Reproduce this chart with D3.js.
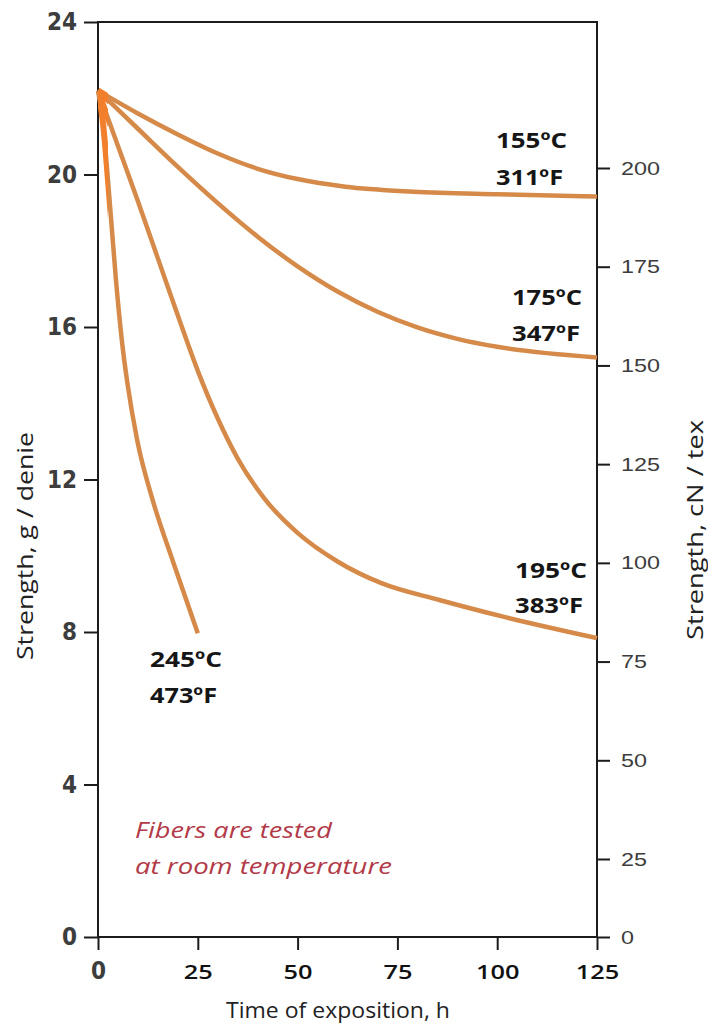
<!DOCTYPE html>
<html><head><meta charset="utf-8">
<script src="https://cdn.jsdelivr.net/npm/d3@7"></script>
<style>
html,body{margin:0;padding:0;background:#fff;}
svg{display:block;}
</style></head>
<body>
<svg id="chart" width="708" height="1032"></svg>
<script>
// ---- data ----
const timeTicks = [0, 25, 50, 75, 100, 125];
const leftTicks = [0, 4, 8, 12, 16, 20, 24];
const rightTicks = [0, 25, 50, 75, 100, 125, 150, 175, 200];

const t155 = [0, 10, 20, 30, 40, 50, 62, 79, 100, 125];
const v155 = [22.2, 21.6, 21.05, 20.55, 20.15, 19.88, 19.68, 19.55, 19.48, 19.42];

const t175 = [0, 10, 20, 30, 40, 50, 60, 70, 80, 90, 100, 125];
const v175 = [22.2, 21.2, 20.2, 19.25, 18.37, 17.59, 16.93, 16.4, 15.99, 15.69, 15.48, 15.2];

const t195 = [0, 5, 10, 15, 20, 25, 30, 35, 42, 50, 60, 71, 85.5, 102, 125];
const v195 = [22.2, 20.75, 19.3, 17.8, 16.3, 14.85, 13.6, 12.55, 11.46, 10.6, 9.85, 9.28, 8.84, 8.39, 7.84];

const t245 = [0, 1.25, 2.5, 4.5, 6.25, 7.25, 9.8, 13.7, 18.65, 25];
const v245 = [22.2, 21.35, 19.86, 17.23, 15.4, 14.61, 13.04, 11.46, 9.89, 7.97];

const seriesNames = ["155", "175", "195", "245"];
const labelC = ["155ºC", "175ºC", "195ºC", "245ºC"];
const labelF = ["311ºF", "347ºF", "383ºF", "473ºF"];
const noteLines = ["Fibers are tested", "at room temperature"];

// ---- layout ----
const L = 98, R = 597, T = 22, B = 937;
const svg = d3.select("#chart");
const x = d3.scaleLinear().domain([0, 125]).range([L, R]);
const yL = d3.scaleLinear().domain([0, 24]).range([B, T]);
const yR = d3.scaleLinear().domain([0, 25, 200]).range([B, 859, 168]);

const axisColor = "#1c1c1c";
const lineColor = "#D68A49";
const sansW = "'Open Sans', Lato, sans-serif";
const narrow = "'Liberation Sans Narrow','DejaVu Sans Condensed',sans-serif";

// frame lines
const frame = svg.append("g").attr("stroke", axisColor).attr("stroke-width", 2).attr("fill", "none");
frame.append("line").attr("x1", L).attr("x2", L).attr("y1", T - 1).attr("y2", B);
frame.append("line").attr("x1", R).attr("x2", R).attr("y1", T - 1).attr("y2", B);
frame.append("line").attr("x1", L).attr("x2", R).attr("y1", T).attr("y2", T);
frame.append("line").attr("x1", L).attr("x2", R).attr("y1", B).attr("y2", B);

// left axis
const gL = svg.append("g").attr("transform", `translate(${L},0)`)
  .call(d3.axisLeft(yL).tickValues(leftTicks).tickSize(14).tickPadding(7).tickFormat(d3.format("d")));
gL.select(".domain").remove();
gL.selectAll(".tick line").attr("stroke", axisColor).attr("stroke-width", 2);
gL.selectAll(".tick text").attr("font-family", narrow)
  .attr("font-weight", "bold").attr("font-size", 24).attr("fill", "#3d3d3d");

// right axis
const gR = svg.append("g").attr("transform", `translate(${R},0)`)
  .call(d3.axisRight(yR).tickValues(rightTicks).tickSize(13).tickPadding(11).tickFormat(d3.format("d")));
gR.select(".domain").remove();
gR.selectAll(".tick line").attr("stroke", axisColor).attr("stroke-width", 2);
gR.selectAll(".tick text").attr("font-family", "'Liberation Sans', Arial, sans-serif")
  .attr("font-size", 19).attr("fill", "#3d3d3d")
  .attr("textLength", d => String(d).length * 13).attr("lengthAdjust", "spacingAndGlyphs");

// bottom axis
const gB = svg.append("g").attr("transform", `translate(0,${B})`)
  .call(d3.axisBottom(x).tickValues(timeTicks).tickSize(13).tickPadding(15).tickFormat(d3.format("d")));
gB.select(".domain").remove();
gB.selectAll(".tick line").attr("stroke", axisColor).attr("stroke-width", 2);
gB.selectAll(".tick text").attr("font-family", sansW).attr("font-weight", 600)
  .attr("font-size", 20).attr("fill", "#111")
  .attr("textLength", d => String(d).length * 14.5).attr("lengthAdjust", "spacingAndGlyphs");
gB.selectAll(".tick text").filter(d => d === 0)
  .attr("font-family", narrow).attr("textLength", null).attr("dy", "0.6em")
  .attr("font-weight", "bold").attr("font-size", 24).attr("fill", "#3d3d3d");

// axis titles
svg.append("text").attr("transform", `translate(33,546) rotate(-90)`).attr("text-anchor", "middle")
  .attr("font-family", sansW).attr("font-size", 21).attr("fill", "#222")
  .attr("textLength", 228).attr("lengthAdjust", "spacingAndGlyphs")
  .text("Strength, g / denie");
svg.append("text").attr("transform", `translate(703,530) rotate(-90)`).attr("text-anchor", "middle")
  .attr("font-family", sansW).attr("font-size", 21).attr("fill", "#222")
  .attr("textLength", 220).attr("lengthAdjust", "spacingAndGlyphs")
  .text("Strength, cN / tex");
svg.append("text").attr("x", 226).attr("y", 1018)
  .attr("font-family", sansW).attr("font-size", 21).attr("fill", "#222")
  .attr("textLength", 224).attr("lengthAdjust", "spacingAndGlyphs")
  .text("Time of exposition, h");

// curves
const series = [
  {t: t155, v: v155}, {t: t175, v: v175}, {t: t195, v: v195}, {t: t245, v: v245}
].map((s, i) => ({name: seriesNames[i], pts: s.t.map((tt, j) => [tt, s.v[j]])}));

const line = d3.line().x(d => x(d[0])).y(d => yL(d[1])).curve(d3.curveMonotoneX);
svg.append("g").selectAll("path").data(series).join("path")
  .attr("d", d => line(d.pts)).attr("fill", "none").attr("stroke", lineColor)
  .attr("stroke-width", 4.5).attr("stroke-linecap", "butt");

// bright blob at start
svg.append("clipPath").attr("id", "startClip").append("rect")
  .attr("x", x(0)).attr("y", T).attr("width", x(2.5) - x(0)).attr("height", B - T);
svg.append("g").attr("clip-path", "url(#startClip)").selectAll("path").data(series).join("path")
  .attr("d", d => line(d.pts)).attr("fill", "none").attr("stroke", "#F27F2B")
  .attr("stroke-width", 6);

// temperature labels
const labelPos = [
  {x: 496, y1: 148, y2: 185, w1: 71, w2: 67},
  {x: 512, y1: 305, y2: 341, w1: 70, w2: 68},
  {x: 515, y1: 578, y2: 613, w1: 72, w2: 68},
  {x: 150, y1: 667, y2: 703, w1: 72, w2: 67}
];
const lab = svg.append("g").attr("font-family", sansW)
  .attr("font-weight", "bold").attr("font-size", 22).attr("fill", "#161616");
labelPos.forEach((p, i) => {
  lab.append("text").attr("x", p.x).attr("y", p.y1).attr("textLength", p.w1)
    .attr("lengthAdjust", "spacingAndGlyphs").text(labelC[i]);
  lab.append("text").attr("x", p.x).attr("y", p.y2).attr("textLength", p.w2)
    .attr("lengthAdjust", "spacingAndGlyphs").text(labelF[i]);
});

// note
const note = svg.append("g").attr("font-family", sansW)
  .attr("font-style", "italic").attr("font-size", 21).attr("fill", "#B23A48");
note.append("text").attr("x", 135).attr("y", 838).attr("textLength", 197)
  .attr("lengthAdjust", "spacingAndGlyphs").text(noteLines[0]);
note.append("text").attr("x", 135).attr("y", 874).attr("textLength", 257)
  .attr("lengthAdjust", "spacingAndGlyphs").text(noteLines[1]);
</script>
</body></html>
